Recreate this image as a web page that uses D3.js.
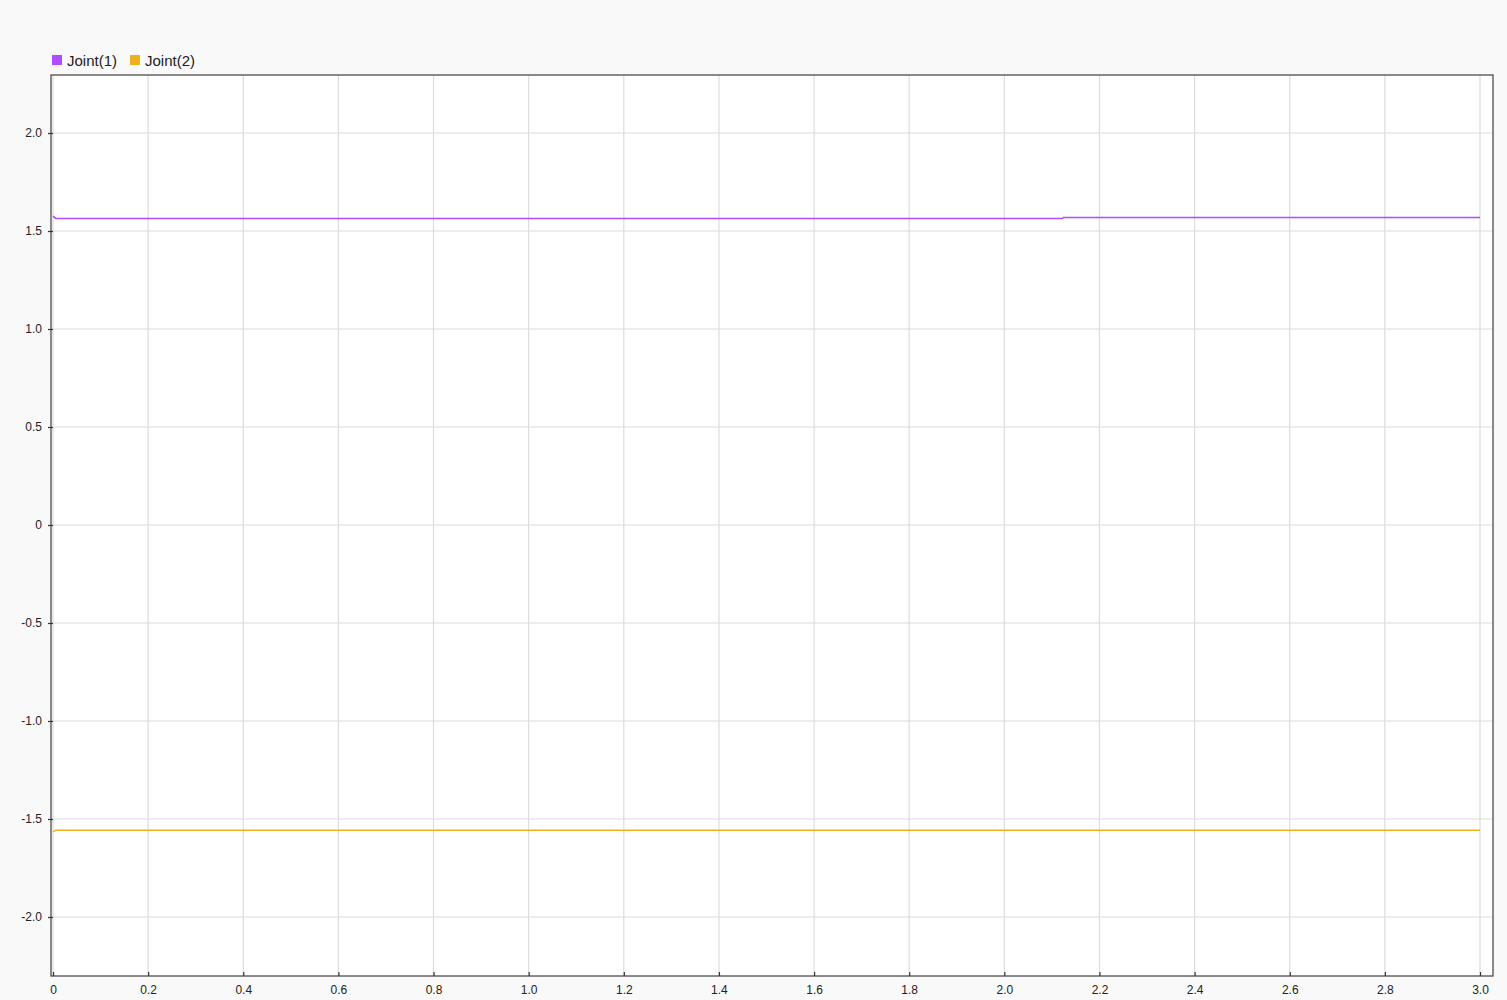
<!DOCTYPE html>
<html lang="en">
<head>
	<meta charset="UTF-8">
	<title>Joint signals</title>
	<script src="https://cdn.jsdelivr.net/npm/d3@7"></script>
	<style>
		html, body { margin: 0; padding: 0; background: #f9f9f9; }
		svg { display: block; font-family: "Liberation Sans", Arial, sans-serif; }
	</style>
</head>
<body>
	<svg id="svg"></svg>
	<script>
		// breakpoints (time in s, angle in rad)
		var time   = [0, 0.006, 2.122, 2.124, 3.0];
		var joint1 = [1.576, 1.564, 1.564, 1.569, 1.569];
		var joint2 = [-1.566, -1.557, -1.557, -1.557, -1.557];
		var seriesNames = ["Joint(1)", "Joint(2)"];
		var seriesColors = ["#b14cfb", "#edb120"];
		var xTicks = d3.range(0, 3.01, 0.2);
		var yTicks = [-2, -1.5, -1, -0.5, 0, 0.5, 1, 1.5, 2];

		var w = 1507, h = 1000,
			m = {left: 51, right: 14, top: 75, bottom: 24},
			svg = d3.select("#svg").attr("width", w).attr("height", h);

		var x = d3.scaleLinear().domain([-0.0042, 3.0273]).range([m.left, w - m.right]);
		var y = d3.scaleLinear().domain([-2.301, 2.296]).range([h - m.bottom, m.top]);

		svg.append("rect").attr("width", w).attr("height", h).attr("fill", "#f9f9f9");
		svg.append("rect")
			.attr("x", m.left).attr("y", m.top)
			.attr("width", w - m.left - m.right).attr("height", h - m.top - m.bottom)
			.attr("fill", "#ffffff");

		// grid
		svg.append("g").selectAll("line").data(xTicks).enter().append("line")
			.attr("x1", function(d) { return x(d); }).attr("x2", function(d) { return x(d); })
			.attr("y1", m.top).attr("y2", h - m.bottom)
			.attr("stroke", "#dcdcdc").attr("stroke-width", 1.2);
		svg.append("g").selectAll("line").data(yTicks).enter().append("line")
			.attr("x1", m.left).attr("x2", w - m.right)
			.attr("y1", function(d) { return y(d); }).attr("y2", function(d) { return y(d); })
			.attr("stroke", "#dcdcdc").attr("stroke-width", 1.2);

		// lines
		var data = [joint1, joint2];
		var line = d3.line()
			.x(function(d, i) { return x(time[i]); })
			.y(function(d) { return y(d); });
		svg.append("g").selectAll("path").data(data).enter().append("path")
			.attr("d", line)
			.attr("fill", "none")
			.attr("stroke", function(d, i) { return seriesColors[i]; })
			.attr("stroke-width", 1.6);

		// frame
		svg.append("rect")
			.attr("x", m.left).attr("y", m.top)
			.attr("width", w - m.left - m.right).attr("height", h - m.top - m.bottom)
			.attr("fill", "none").attr("stroke", "#4d4d4d").attr("stroke-width", 1.3);

		// axes (plain hyphen for negatives)
		var fmt = function(d) {
			return Math.abs(d) < 1e-9 ? "0" : d.toFixed(1);
		};

		var gx = svg.append("g").attr("transform", "translate(0," + (h - m.bottom) + ")")
			.call(d3.axisBottom(x).tickValues(xTicks).tickFormat(fmt).tickSizeInner(-4).tickSizeOuter(0).tickPadding(9));
		var gy = svg.append("g").attr("transform", "translate(" + m.left + ",0)")
			.call(d3.axisLeft(y).tickValues(yTicks).tickFormat(fmt).tickSize(3).tickSizeOuter(0).tickPadding(6));
		[gx, gy].forEach(function(g) {
			g.select(".domain").remove();
			g.selectAll(".tick line").attr("stroke", "#333").attr("stroke-width", 1.2);
			g.selectAll(".tick text").attr("fill", "#222").style("font-size", "12px")
				.style("font-family", "'Liberation Sans', Arial, sans-serif");
		});
		gy.selectAll(".tick line").attr("x1", -3).attr("x2", 2);

		// legend
		var lg = svg.append("g").attr("transform", "translate(52,60)");
		var offs = [0, 78];
		seriesNames.forEach(function(n, i) {
			var g = lg.append("g").attr("transform", "translate(" + offs[i] + ",0)");
			g.append("rect").attr("x", 0).attr("y", -5).attr("width", 10).attr("height", 10)
				.attr("fill", seriesColors[i]);
			g.append("text").attr("x", 15).attr("y", 5.5).text(n)
				.attr("fill", "#222").style("font-size", "15px");
		});
	</script>
</body>
</html>
